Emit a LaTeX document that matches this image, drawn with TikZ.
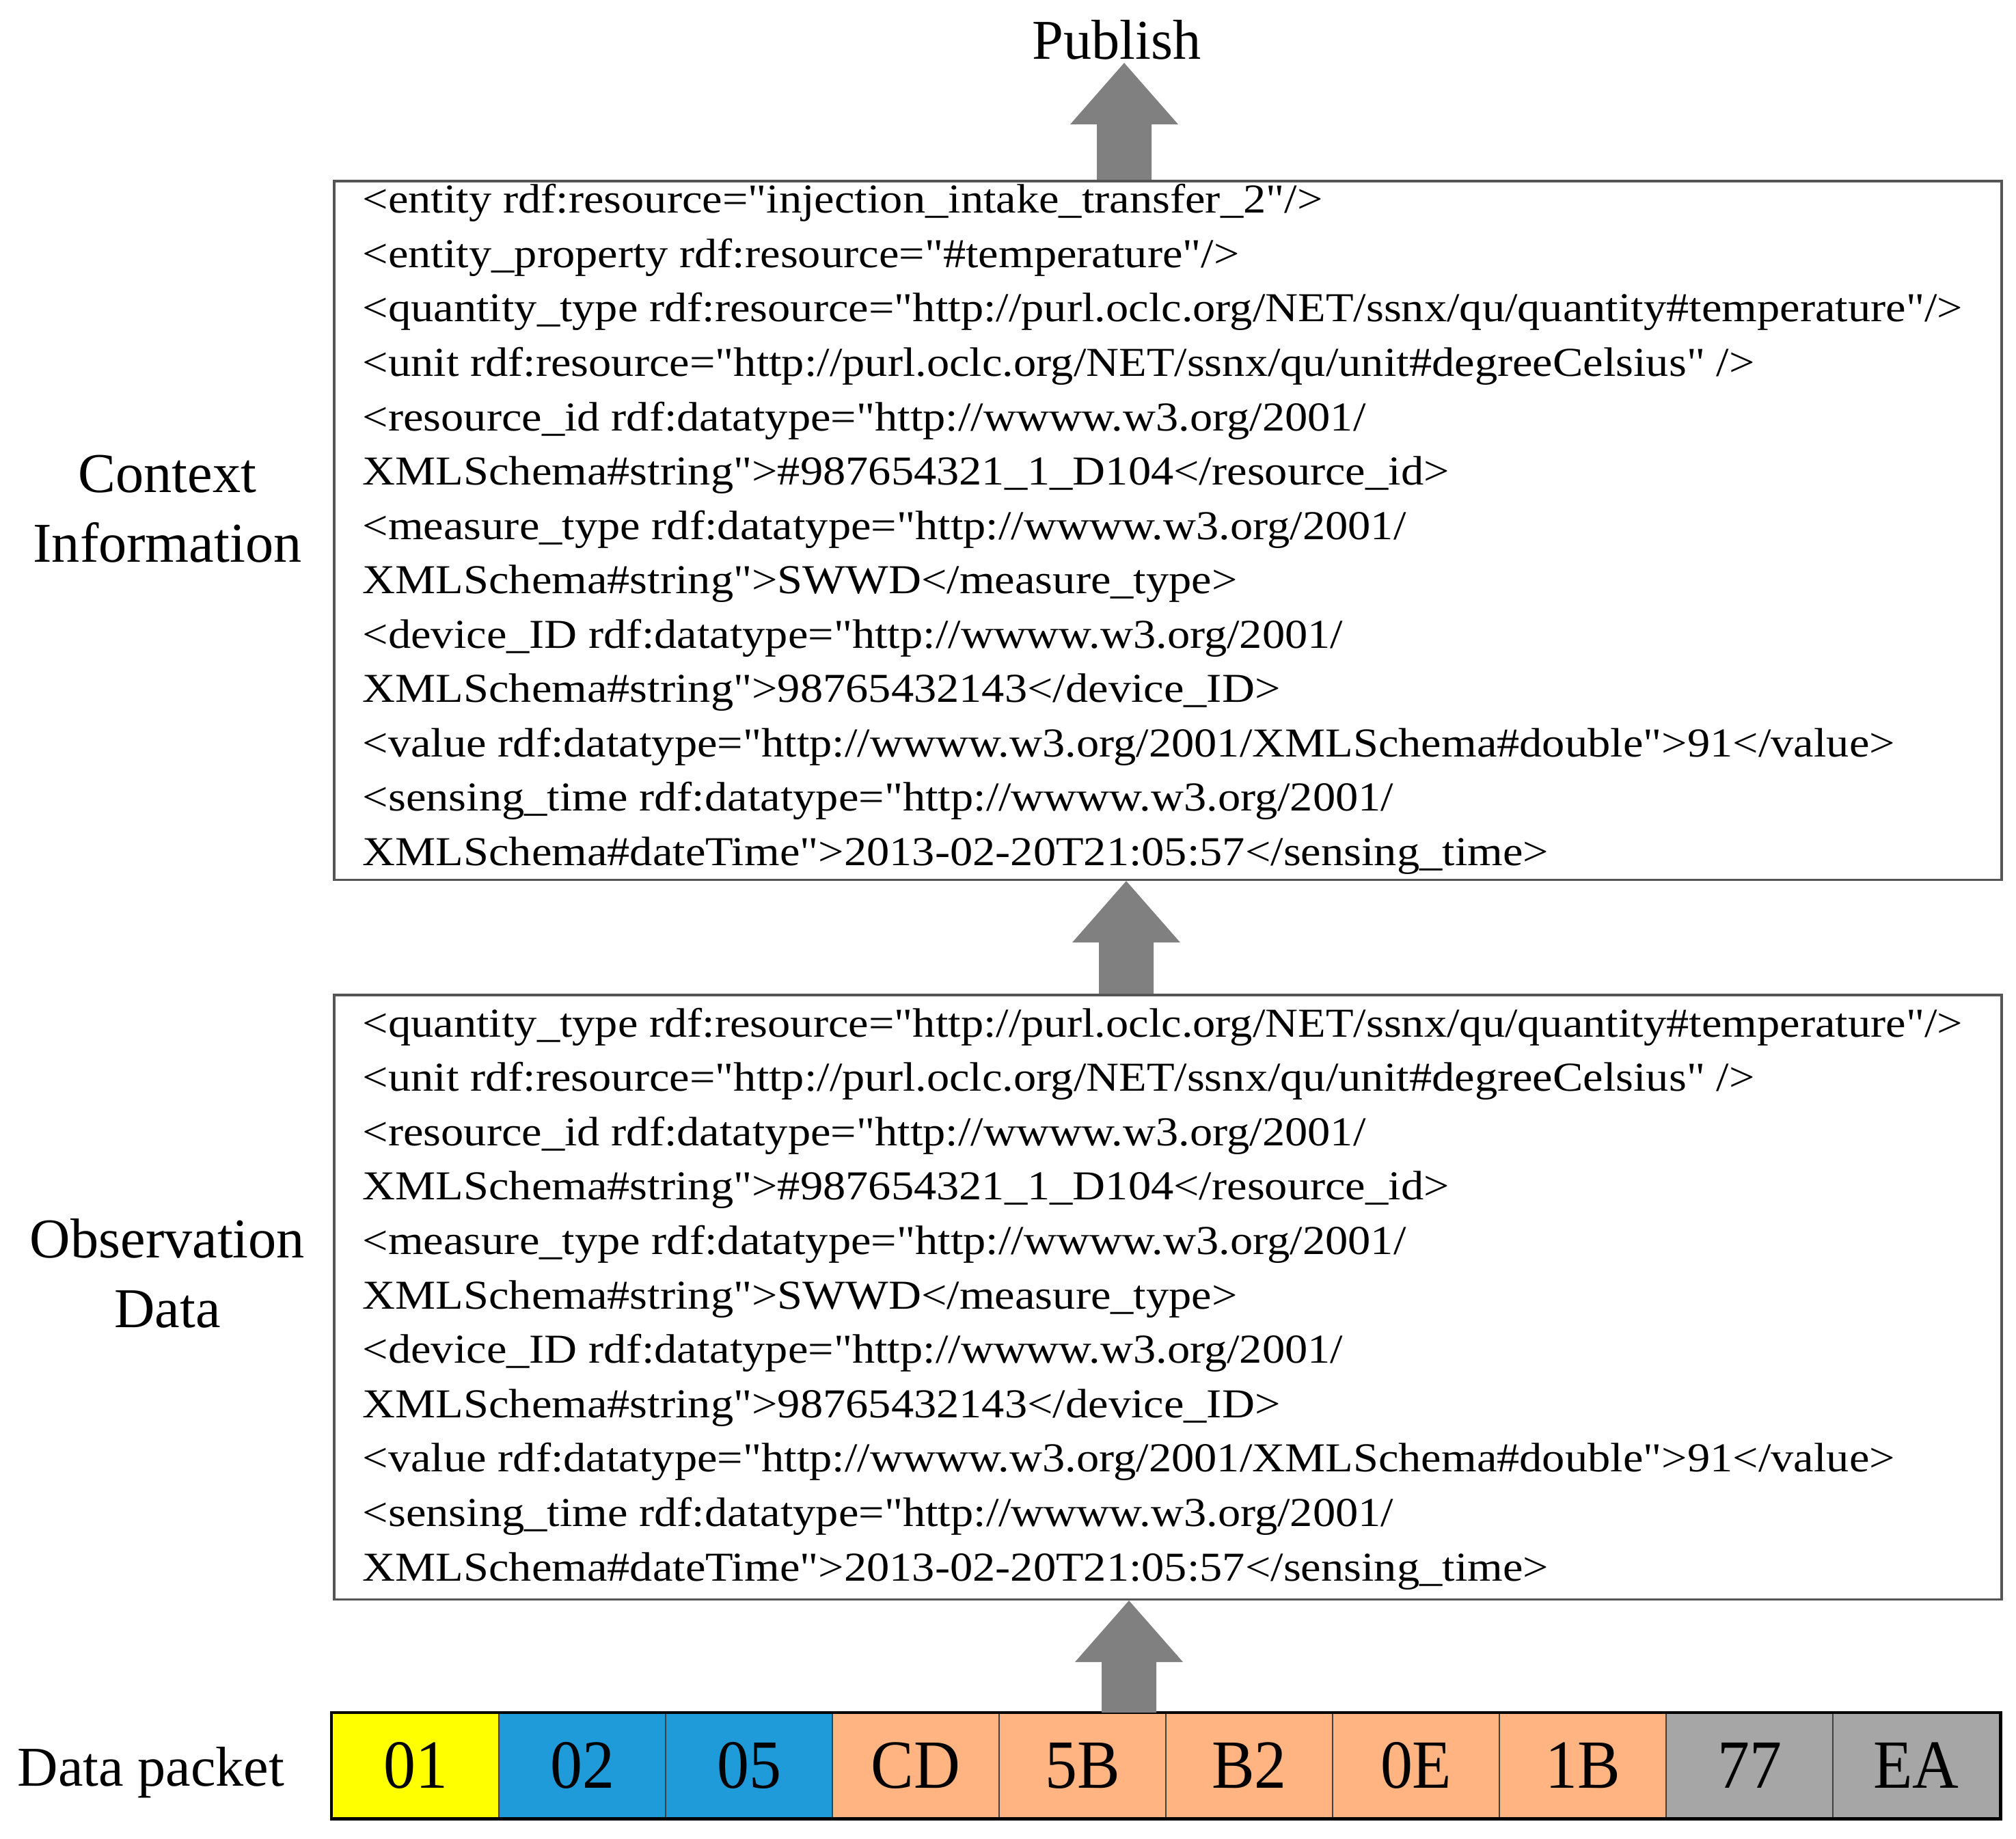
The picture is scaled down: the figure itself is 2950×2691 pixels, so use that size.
\documentclass[tikz,border=0pt]{standalone}
\usepackage{fontspec}
\setmainfont{Liberation Serif}[Ligatures=TeXOff]
\newfontfamily\xmlfont{Liberation Serif}[Ligatures=TeXOff, FakeStretch=1.105]
\newfontfamily\cellfont{Liberation Serif}[Ligatures=TeXOff, FakeStretch=0.93]
\usetikzlibrary{calc}
\definecolor{cyel}{HTML}{FFFF00}
\definecolor{cblu}{HTML}{1E9BD8}
\definecolor{cora}{HTML}{FFB482}
\definecolor{cgry}{HTML}{A6A6A6}
\definecolor{arrowgray}{HTML}{808080}
\definecolor{boxline}{HTML}{555555}
\tikzset{
  xml/.style={anchor=base west, inner sep=0pt, font=\xmlfont\fontsize{17.1pt}{20pt}\selectfont},
  lbl/.style={align=center, inner sep=0pt, font=\fontsize{23.4pt}{29pt}\selectfont},
  xmlbox/.style={draw=boxline, line width=1pt, inner sep=0pt},
  cell/.style={draw=black!75, line width=0.6pt, minimum width=2.44cm, minimum height=1.53cm,
    inner sep=0pt, anchor=north west, font=\cellfont\fontsize{28.7pt}{30pt}\selectfont},
  blockarr/.style={fill=arrowgray, draw=none},
}
\newcommand\xmlline[3]{\node[xml] (#1) at (530,#2) {#3};}
\newcommand\uparrowshape[2]{%
  \fill[blockarr] ($(#1)+(-40,0)$) -- ($(#2)+(-40,90)$) -- ($(#2)+(-79,90)$) -- (#2)
    -- ($(#2)+(79,90)$) -- ($(#2)+(40,90)$) -- ($(#1)+(40,0)$) -- cycle;}
\begin{document}
\begin{tikzpicture}[x=0.01cm, y=-0.01cm]
\useasboundingbox (0,0) rectangle (2950,2691);

% boxes
\node[xmlbox, minimum width=24.39cm, minimum height=10.22cm, anchor=north west] (ctx) at (487,263) {};
\node[xmlbox, minimum width=24.39cm, minimum height=8.84cm, anchor=north west] (obs) at (487,1454) {};

% context box lines
\xmlline{a1}{312}{<entity rdf:resource="injection\_intake\_transfer\_2"/>}
\xmlline{a2}{391.5}{<entity\_property rdf:resource="\#temperature"/>}
\xmlline{a3}{471}{<quantity\_type rdf:resource="http://purl.oclc.org/NET/ssnx/qu/quantity\#temperature"/>}
\xmlline{a4}{550.5}{<unit rdf:resource="http://purl.oclc.org/NET/ssnx/qu/unit\#degreeCelsius" />}
\xmlline{a5}{630}{<resource\_id rdf:datatype="http://wwww.w3.org/2001/}
\xmlline{a6}{709.5}{XMLSchema\#string">\#987654321\_1\_D104</resource\_id>}
\xmlline{a7}{789}{<measure\_type rdf:datatype="http://wwww.w3.org/2001/}
\xmlline{a8}{868.5}{XMLSchema\#string">SWWD</measure\_type>}
\xmlline{a9}{948}{<device\_ID rdf:datatype="http://wwww.w3.org/2001/}
\xmlline{a10}{1027.5}{XMLSchema\#string">98765432143</device\_ID>}
\xmlline{a11}{1107}{<value rdf:datatype="http://wwww.w3.org/2001/XMLSchema\#double">91</value>}
\xmlline{a12}{1186.5}{<sensing\_time rdf:datatype="http://wwww.w3.org/2001/}
\xmlline{a13}{1266}{XMLSchema\#dateTime">2013-02-20T21:05:57</sensing\_time>}

% observation box lines
\xmlline{b1}{1517}{<quantity\_type rdf:resource="http://purl.oclc.org/NET/ssnx/qu/quantity\#temperature"/>}
\xmlline{b2}{1596.6}{<unit rdf:resource="http://purl.oclc.org/NET/ssnx/qu/unit\#degreeCelsius" />}
\xmlline{b3}{1676.2}{<resource\_id rdf:datatype="http://wwww.w3.org/2001/}
\xmlline{b4}{1755.8}{XMLSchema\#string">\#987654321\_1\_D104</resource\_id>}
\xmlline{b5}{1835.4}{<measure\_type rdf:datatype="http://wwww.w3.org/2001/}
\xmlline{b6}{1915}{XMLSchema\#string">SWWD</measure\_type>}
\xmlline{b7}{1994.6}{<device\_ID rdf:datatype="http://wwww.w3.org/2001/}
\xmlline{b8}{2074.2}{XMLSchema\#string">98765432143</device\_ID>}
\xmlline{b9}{2153.8}{<value rdf:datatype="http://wwww.w3.org/2001/XMLSchema\#double">91</value>}
\xmlline{b10}{2233.4}{<sensing\_time rdf:datatype="http://wwww.w3.org/2001/}
\xmlline{b11}{2313}{XMLSchema\#dateTime">2013-02-20T21:05:57</sensing\_time>}

% labels (base anchor = baseline of last line)
\node[lbl, anchor=base] (pub) at (1634,87) {Publish};
\node[lbl, anchor=base] (ctxl) at (245,822) {Context\\Information};
\node[lbl, anchor=base] (obsl) at (245,1942) {Observation\\Data};
\node[lbl, anchor=base west] (pkl) at (25,2613) {Data packet};

% packet cells
\foreach \t/\c [count=\i from 0] in {01/cyel,02/cblu,05/cblu,CD/cora,5B/cora,B2/cora,0E/cora,1B/cora,77/cgry,EA/cgry}{
  \node[cell, fill=\c] (c\i) at ({485+244*\i},2506) {\t};
}
\draw[black, line width=1.3pt] (c0.north west) rectangle (c9.south east);

% arrows
\coordinate (x1) at (1645,0);
\coordinate (x2) at (1648,0);
\coordinate (x3) at (1652,0);
\coordinate (t1) at ($(ctx.north -| x1)$);
\coordinate (p1) at (1645,92);
\uparrowshape{t1}{p1}
\coordinate (t2) at ($(obs.north -| x2)$);
\coordinate (p2) at ($(ctx.south -| x2)$);
\uparrowshape{t2}{p2}
\coordinate (t3) at ($(c4.north -| x3)$);
\coordinate (p3) at ($(obs.south -| x3)$);
\uparrowshape{t3}{p3}
\end{tikzpicture}
\end{document}
